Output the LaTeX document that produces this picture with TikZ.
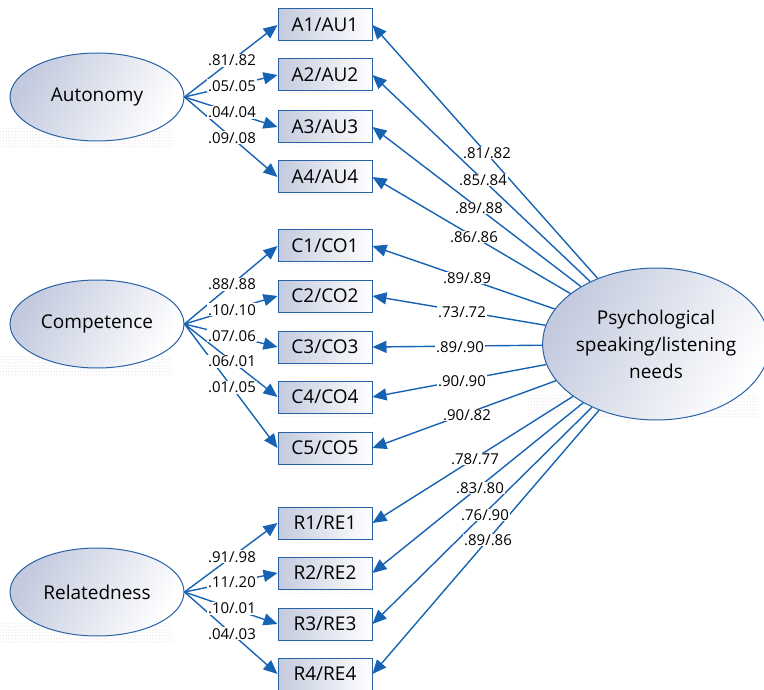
\documentclass[tikz,border=0pt]{standalone}
\usepackage{fontspec}
\setmainfont{Open Sans}
\usetikzlibrary{arrows.meta,patterns,shapes.geometric}
\definecolor{lineblue}{HTML}{1763B3}
\definecolor{edgeblue}{HTML}{2A62A6}
\definecolor{shadeblue}{HTML}{C3CADE}
\begin{document}
\begin{tikzpicture}[x=1pt,y=-1pt,
  lat/.style={ellipse, draw=edgeblue, line width=1pt, top color=shadeblue, bottom color=white, shading angle=60,
    minimum width=174pt, minimum height=88pt, inner sep=0pt, font=\fontsize{19}{27}\selectfont},
  ind/.style={rectangle, draw=edgeblue, line width=1pt, left color=shadeblue, right color=white,
    minimum width=94pt, minimum height=32pt, inner sep=0pt, font=\fontsize{19}{22}\selectfont},
  arr/.style={draw=lineblue, line width=1.4pt, -{Triangle[length=14pt,width=12pt]}},
  lbl/.style={fill=white, inner sep=0.8pt, font=\fontsize{15}{17}\selectfont},
  shd/.style={pattern=dots, pattern color=black!22, draw=none}]
\useasboundingbox (0,0) rectangle (764,690);

% shadows
\fill[shd] (0,127) rectangle (173,148);
\fill[shd] (0,355) rectangle (173,376);
\fill[shd] (0,622) rectangle (173,643);
\fill[shd] (528,395) rectangle (757,416);
\foreach \yy in {41,91,143,193,262,312,363,413,464,539,589,640,690} {
  \fill[shd] (280,\yy+1) rectangle (374,\yy+4);
}

% latent variables
\node[lat] (Aut) at (97,97) {Autonomy};
\node[lat] (Com) at (97,324) {Competence};
\node[lat] (Rel) at (97,592) {Relatedness};
\node[lat, minimum width=214pt, minimum height=152pt, align=center] (P) at (656,344)
  {Psychological\\speaking/listening\\needs};

% indicators
\node[ind] (A1) at (325,25) {A1/AU1};
\node[ind] (A2) at (325,75) {A2/AU2};
\node[ind] (A3) at (325,127) {A3/AU3};
\node[ind] (A4) at (325,177) {A4/AU4};
\node[ind] (C1) at (325,246) {C1/CO1};
\node[ind] (C2) at (325,296) {C2/CO2};
\node[ind] (C3) at (325,347) {C3/CO3};
\node[ind] (C4) at (325,397) {C4/CO4};
\node[ind] (C5) at (325,448) {C5/CO5};
\node[ind] (R1) at (325,523) {R1/RE1};
\node[ind] (R2) at (325,573) {R2/RE2};
\node[ind] (R3) at (325,624) {R3/RE3};
\node[ind] (R4) at (325,674) {R4/RE4};

% arrows from left latents
\foreach \s/\t in {Aut/A1,Aut/A2,Aut/A3,Aut/A4,Com/C1,Com/C2,Com/C3,Com/C4,Com/C5,Rel/R1,Rel/R2,Rel/R3,Rel/R4} {
  \draw[arr] (\s.east) -- (\t.west);
}
% arrows from right latent
\foreach \t in {A1,A2,A3,A4,C1,C2,C3,C4,C5,R1,R2,R3,R4} {
  \draw[arr] (P) -- (\t.east);
}

% left labels
\path (Aut.east) -- node[lbl,pos=0.51] (la1) {.81/.82} (A1.west);
\path (Aut.east) -- node[lbl,pos=0.51] (la2) {.05/.05} (A2.west);
\path (Aut.east) -- node[lbl,pos=0.51] (la3) {.04/.04} (A3.west);
\path (Aut.east) -- node[lbl,pos=0.51] (la4) {.09/.08} (A4.west);
\path (Com.east) -- node[lbl,pos=0.51] (lc1) {.88/.88} (C1.west);
\path (Com.east) -- node[lbl,pos=0.51] (lc2) {.10/.10} (C2.west);
\path (Com.east) -- node[lbl,pos=0.51] (lc3) {.07/.06} (C3.west);
\path (Com.east) -- node[lbl,pos=0.51] (lc4) {.06/.01} (C4.west);
\path (Com.east) -- node[lbl,pos=0.51] (lc5) {.01/.05} (C5.west);
\path (Rel.east) -- node[lbl,pos=0.51] (lr1) {.91/.98} (R1.west);
\path (Rel.east) -- node[lbl,pos=0.51] (lr2) {.11/.20} (R2.west);
\path (Rel.east) -- node[lbl,pos=0.51] (lr3) {.10/.01} (R3.west);
\path (Rel.east) -- node[lbl,pos=0.51] (lr4) {.04/.03} (R4.west);

% right labels
\node[lbl] (pa1) at (487,153) {.81/.82};
\node[lbl] (pa2) at (483,180) {.85/.84};
\node[lbl] (pa3) at (479,208) {.89/.88};
\node[lbl] (pa4) at (474,237) {.86/.86};
\node[lbl] (pc1) at (467,278) {.89/.89};
\node[lbl] (pc2) at (462,312) {.73/.72};
\node[lbl] (pc3) at (460,347) {.89/.90};
\node[lbl] (pc4) at (462,381) {.90/.90};
\node[lbl] (pc5) at (467,415) {.90/.82};
\node[lbl] (pr1) at (475,459) {.78/.77};
\node[lbl] (pr2) at (480,488) {.83/.80};
\node[lbl] (pr3) at (485,515) {.76/.90};
\node[lbl] (pr4) at (488,540) {.89/.86};
\end{tikzpicture}
\end{document}
